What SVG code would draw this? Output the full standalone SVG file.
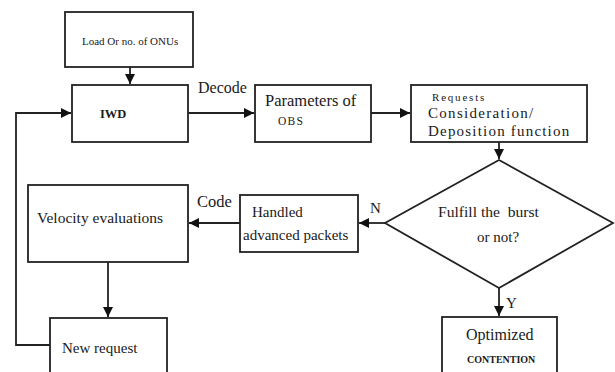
<svg xmlns="http://www.w3.org/2000/svg" width="615" height="372" viewBox="0 0 615 372">
<defs>
<marker id="ah" markerUnits="userSpaceOnUse" markerWidth="11" markerHeight="11" refX="10" refY="5" orient="auto">
<path d="M0,0 L10,5 L0,10 z" fill="#111"/>
</marker>
<style>
.box{fill:#fff;stroke:#222;stroke-width:1.8}
.c{fill:none;stroke:#222;stroke-width:1.8}
</style>
</defs>
<rect width="615" height="372" fill="#fff"/>
<g id="connectors">
<path class="c" d="M130,67 L130,84" marker-end="url(#ah)"/>
<path class="c" d="M188,113 L254,113" marker-end="url(#ah)"/>
<path class="c" d="M371,113 L410,113" marker-end="url(#ah)"/>
<path class="c" d="M499,142 L499,159" marker-end="url(#ah)"/>
<path class="c" d="M385,223 L359,223" marker-end="url(#ah)"/>
<path class="c" d="M240,223 L189,223" marker-end="url(#ah)"/>
<path class="c" d="M108,262 L108,317" marker-end="url(#ah)"/>
<path class="c" d="M499,288 L499,316" marker-end="url(#ah)"/>
<path class="c" d="M50,345 L16,345 L16,113 L71,113" marker-end="url(#ah)"/>
<text x="198" y="93" font-family="Liberation Serif" fill="#1a1a1a" font-size="16">Decode</text>
<text x="197" y="207" font-family="Liberation Serif" fill="#1a1a1a" font-size="16.5">Code</text>
<text x="370" y="213" font-family="Liberation Serif" fill="#1a1a1a" font-size="15">N</text>
<text x="506" y="308" font-family="Liberation Serif" fill="#1a1a1a" font-size="15">Y</text>
</g>
<g id="load">
<rect class="box" x="65" y="12" width="128" height="55"/>
<text x="82" y="45" font-family="Liberation Serif" fill="#1a1a1a" font-size="11">Load Or no. of ONUs</text>
</g>
<g id="iwd">
<rect class="box" x="72" y="85" width="116" height="57"/>
<text x="100" y="118" font-family="Liberation Serif" fill="#1a1a1a" font-size="12.5" font-weight="bold">IWD</text>
</g>
<g id="params">
<rect class="box" x="255" y="85" width="116" height="57"/>
<text x="265" y="106" font-family="Liberation Serif" fill="#1a1a1a" font-size="16.5">Parameters of</text>
<text x="278" y="125" font-family="Liberation Serif" fill="#1a1a1a" font-size="11.5" letter-spacing="1.2">OBS</text>
</g>
<g id="requests">
<rect class="box" x="411" y="85" width="176" height="57"/>
<text x="432" y="101" font-family="Liberation Serif" fill="#1a1a1a" font-size="11" letter-spacing="1.8">Requests</text>
<text x="428" y="118" font-family="Liberation Serif" fill="#1a1a1a" font-size="15" letter-spacing="1.3">Consideration/</text>
<text x="428" y="136" font-family="Liberation Serif" fill="#1a1a1a" font-size="15" letter-spacing="1.2">Deposition function</text>
</g>
<g id="decision">
<polygon class="box" points="499,160 613,223 499,288 385,223"/>
<text x="438" y="217" font-family="Liberation Serif" fill="#1a1a1a" font-size="15.6" xml:space="preserve">Fulfill the  burst</text>
<text x="477" y="242" font-family="Liberation Serif" fill="#1a1a1a" font-size="15">or not?</text>
</g>
<g id="handled">
<rect class="box" x="240" y="195" width="118" height="57"/>
<text x="252" y="217" font-family="Liberation Serif" fill="#1a1a1a" font-size="15">Handled</text>
<text x="243" y="240" font-family="Liberation Serif" fill="#1a1a1a" font-size="15">advanced packets</text>
</g>
<g id="velocity">
<rect class="box" x="28" y="185" width="160" height="77"/>
<text x="37" y="223" font-family="Liberation Serif" fill="#1a1a1a" font-size="15.5">Velocity evaluations</text>
</g>
<g id="newrequest">
<rect class="box" x="50" y="318" width="117" height="62"/>
<text x="62" y="353" font-family="Liberation Serif" fill="#1a1a1a" font-size="15">New request</text>
</g>
<g id="optimized">
<rect class="box" x="442" y="317" width="115" height="63"/>
<text x="466" y="340" font-family="Liberation Serif" fill="#1a1a1a" font-size="16">Optimized</text>
<text x="467" y="363" font-family="Liberation Serif" fill="#1a1a1a" font-size="10" font-weight="bold">CONTENTION</text>
</g>
</svg>
